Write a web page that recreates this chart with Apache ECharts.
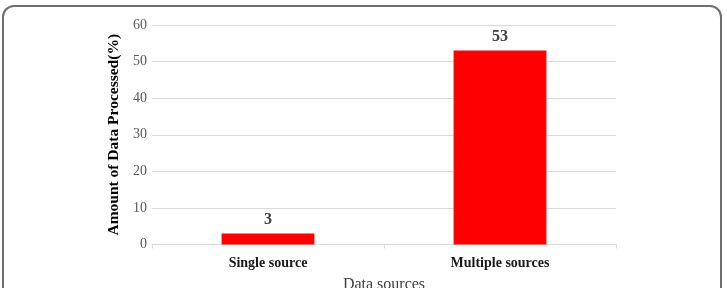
<!DOCTYPE html>
<html>
<head>
<meta charset="utf-8">
<script src="https://cdn.jsdelivr.net/npm/echarts@6/dist/echarts.min.js"></script>
<style>
  html, body { margin: 0; padding: 0; background: #fff; }
  #wrap { position: relative; width: 727px; height: 288px; overflow: hidden; }
  #chart { position: absolute; left: 0; top: 0; width: 727px; height: 288px; }
  .frame {
    position: absolute; left: 2px; top: 5px; width: 716px; height: 320px;
    border: 2px solid #6e6e6e; border-radius: 12px; pointer-events: none;
  }
</style>
</head>
<body>
<div id="wrap">
  <div id="chart"></div>
  <div class="frame"></div>
</div>
<script>
// categories and values (%)
const categories = ['Single source', 'Multiple sources'];
const values = [3, 53];
const yTicks = [0, 10, 20, 30, 40, 50, 60];

const serif = '"Liberation Serif", "DejaVu Serif", serif';
const gridColor = '#d9d9d9';

const chart = echarts.init(document.getElementById('chart'));
chart.setOption({
  animation: false,
  grid: { left: 152, right: 111, top: 25, bottom: 43.5, containLabel: false, outerBoundsMode: 'none' },
  xAxis: {
    type: 'category',
    data: categories,
    name: 'Data sources',
    nameLocation: 'middle',
    nameGap: 32,
    nameTextStyle: { fontFamily: serif, fontSize: 16, color: '#404040' },
    axisLine: { lineStyle: { color: gridColor, width: 1 } },
    axisTick: { show: true, length: 4, lineStyle: { color: gridColor } },
    axisLabel: { fontFamily: serif, fontSize: 14, fontWeight: 'bold', color: '#1a1a1a', margin: 12 },
  },
  yAxis: {
    type: 'value',
    min: yTicks[0],
    max: yTicks[yTicks.length - 1],
    interval: 10,
    name: 'Amount of Data Processed(%)',
    nameLocation: 'middle',
    nameGap: 25,
    nameTextStyle: { fontFamily: serif, fontSize: 15.5, fontWeight: 'bold', color: '#000' },
    axisLine: { show: false },
    axisTick: { show: false },
    axisLabel: { fontFamily: serif, fontSize: 14, color: '#595959', margin: 5 },
    splitLine: { lineStyle: { color: gridColor, width: 1 } },
  },
  series: [{
    type: 'bar',
    data: values,
    barWidth: '40%',
    itemStyle: { color: '#ff0000' },
    label: {
      show: true,
      position: 'top',
      distance: 6,
      fontFamily: serif,
      fontSize: 16,
      fontWeight: 'bold',
      color: '#404040',
    },
  }],
});
</script>
</body>
</html>
